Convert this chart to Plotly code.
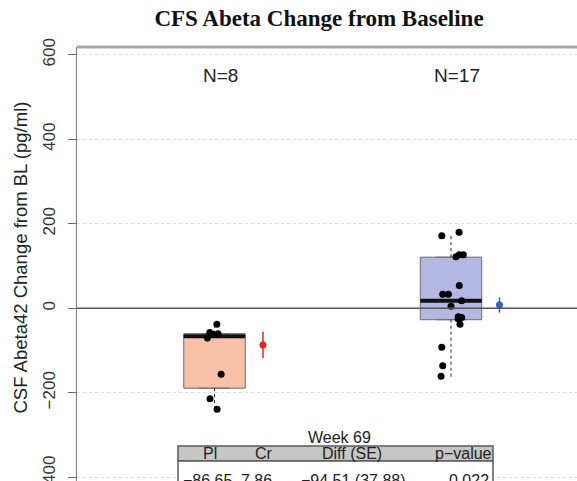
import plotly.graph_objects as go

# ---------------- data ----------------
group_pos = [1, 2]
group_n_label = ["N=8", "N=17"]

pl_values = [-38, -57, -60, -62, -70, -156, -214, -239]
pl_jitter = [0.010, -0.020, 0.015, -0.006, -0.030, 0.028, -0.019, 0.011]

cr_values = [-161, -136, -92, -38, -25, -22, -20, 5, 18, 33, 33, 54, 122, 127, 127, 172, 180]
cr_jitter = [-0.042, -0.035, -0.039, 0.038, 0.030, 0.045, 0.031, 0.000, 0.045,
             -0.035, -0.011, 0.035, 0.021, 0.035, 0.052, -0.039, 0.034]

box_q1 = [-189, -27]
box_median = [-66, 18]
box_q3 = [-60, 121]
whisker_lo = [-239, -166]
whisker_hi = [-38, 177]

means = [-86.65, 7.86]
mean_se = [31, 18]

box_fill = ["#F8C0A7", "#B5B7E3"]
mean_color = ["#E82420", "#3A5CC8"]

yticks = [-400, -200, 0, 200, 400, 600]
ytick_text = ["\u2212400", "\u2212200", "0", "200", "400", "600"]

table_title = "Week 69"
table_header = ["Pl", "Cr", "Diff (SE)", "p\u2212value"]
table_row = ["\u221286.65", "7.86", "\u221294.51 (37.88)", "0.022"]

# ---------------- figure ----------------
W, H = 577, 481
ML, MT = 77, 47
PW, PH = W - ML, H - MT
box_w = 0.26
mean_dx = 0.205

fig = go.Figure()
point_sets = [(pl_values, pl_jitter), (cr_values, cr_jitter)]

for i, pos in enumerate(group_pos):
    fig.add_trace(go.Box(
        x=[pos], q1=[box_q1[i]], median=[box_median[i]], q3=[box_q3[i]],
        lowerfence=[box_q1[i]], upperfence=[box_q3[i]],
        width=box_w, fillcolor=box_fill[i],
        line=dict(color="#6E6E6E", width=1), boxpoints=False,
        hoverinfo="skip", showlegend=False))

for i, pos in enumerate(group_pos):
    # dotted whiskers
    fig.add_trace(go.Scatter(
        x=[pos, pos, None, pos, pos],
        y=[box_q3[i], whisker_hi[i], None, box_q1[i], whisker_lo[i]],
        mode="lines", line=dict(color="#222222", width=1, dash="dot"),
        hoverinfo="skip", showlegend=False))
    # thick median
    fig.add_trace(go.Scatter(
        x=[pos - box_w / 2, pos + box_w / 2], y=[box_median[i], box_median[i]],
        mode="lines", line=dict(color="#111111", width=4),
        hoverinfo="skip", showlegend=False))

for i, pos in enumerate(group_pos):
    vals, jit = point_sets[i]
    fig.add_trace(go.Scatter(
        x=[pos + j for j in jit], y=vals, mode="markers",
        marker=dict(color="black", size=7), hoverinfo="skip", showlegend=False))
    fig.add_trace(go.Scatter(
        x=[pos + mean_dx], y=[means[i]], mode="markers",
        marker=dict(color=mean_color[i], size=7),
        error_y=dict(type="data", array=[mean_se[i]], visible=True,
                     color=mean_color[i], thickness=1.5, width=0),
        hoverinfo="skip", showlegend=False))

# N labels
for i, pos in enumerate(group_pos):
    fig.add_annotation(x=pos, y=550, text=group_n_label[i], showarrow=False,
                       xshift=6, xanchor="center", yanchor="middle",
                       font=dict(family="Liberation Sans", size=19, color="#222222"))


def px_x(p):
    return (p - ML) / PW


def px_y(p):
    return (H - p) / PH


shapes = [
    # zero line
    dict(type="line", xref="paper", yref="y", x0=0, x1=1, y0=0, y1=0,
         line=dict(color="#555555", width=1.5), layer="above"),
    # top border
    dict(type="line", xref="paper", yref="paper", x0=0, x1=1, y0=1, y1=1,
         line=dict(color="#A5A5A5", width=3), layer="above"),
    # table header box
    dict(type="rect", xref="paper", yref="paper",
         x0=px_x(178), x1=px_x(493), y0=px_y(461), y1=px_y(446),
         fillcolor="#C6C6C6", line=dict(color="#5A5A5A", width=1.5), layer="above"),
    # table body row (cut by bottom edge)
    dict(type="rect", xref="paper", yref="paper",
         x0=px_x(178), x1=px_x(493), y0=px_y(510), y1=px_y(461),
         fillcolor="white", line=dict(color="#5A5A5A", width=1.5), layer="above"),
]

tfont = dict(family="Liberation Sans", size=16, color="#222222")
fig.add_annotation(xref="paper", yref="paper", x=px_x(339), y=px_y(437),
                   xanchor="center", yanchor="middle",
                   text=table_title, showarrow=False, font=tfont)
header_x = [209.5, 264, 352, 463]
row_x = [207.5, 256.5, 353, 469]
for k in range(len(table_header)):
    fig.add_annotation(xref="paper", yref="paper", x=px_x(header_x[k]), y=px_y(453.5),
                       xanchor="center", yanchor="middle",
                       text=table_header[k], showarrow=False, font=tfont)
    fig.add_annotation(xref="paper", yref="paper", x=px_x(row_x[k]), y=px_y(480.5),
                       xanchor="center", yanchor="middle",
                       text=table_row[k], showarrow=False, font=tfont)

# y-axis title
fig.add_annotation(xref="paper", yref="paper", x=px_x(20), y=px_y(257.5),
                   xanchor="center", yanchor="middle",
                   text="CSF Abeta42 Change from BL (pg/ml)", textangle=-90,
                   showarrow=False, font=dict(family="Liberation Sans", size=18.5, color="#222222"))

y_per_px = 84.5 / 200.0
y_top = (308.3 - MT) / y_per_px
y_bot = (308.3 - H) / y_per_px
x_per_px = 236.5
x_left = 1 - (214.5 - ML) / x_per_px
x_right = 2 + (W - 451) / x_per_px

fig.update_layout(
    width=W, height=H,
    margin=dict(l=ML, r=0, t=MT, b=0, pad=0, autoexpand=False),
    paper_bgcolor="white", plot_bgcolor="white",
    title=dict(text="<b>CFS Abeta Change from Baseline</b>", xref="container", yref="container",
               x=319 / W, y=1 - 18 / H, xanchor="center", yanchor="middle",
               font=dict(family="Liberation Serif", size=23, color="#111111")),
    shapes=shapes,
    xaxis=dict(range=[x_left, x_right], visible=False, fixedrange=True, automargin=False),
    yaxis=dict(range=[y_bot, y_top], tickvals=yticks, ticktext=ytick_text,
               tickangle=-90, ticks="outside", ticklen=8, tickcolor="#666666",
               tickfont=dict(family="Liberation Sans", size=17, color="#333333"),
               ticklabelstandoff=6, ticklabeloverflow="allow", automargin=False,
               showline=True, linecolor="#7A7A7A", linewidth=1,
               showgrid=True, gridcolor="#DCDCDC", griddash="dot", gridwidth=1,
               zeroline=False),
    showlegend=False,
)

fig.write_html("out.html", config={"displayModeBar": False},
               post_script="document.body.style.margin='0';document.body.style.overflow='hidden';")
